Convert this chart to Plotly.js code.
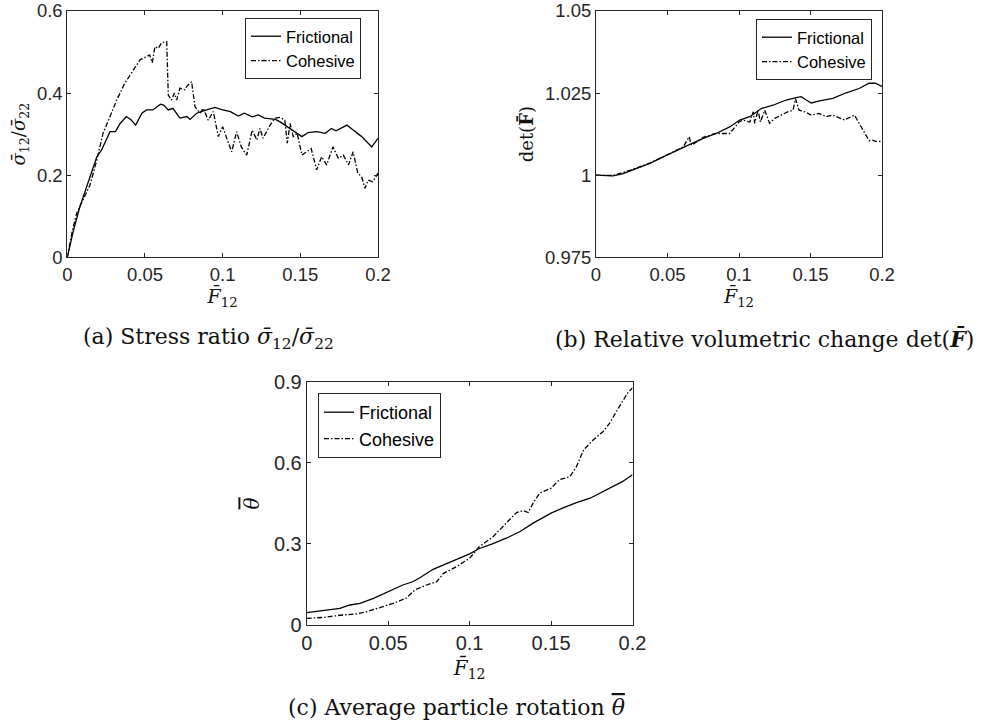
<!DOCTYPE html>
<html><head><meta charset="utf-8">
<script src="https://cdn.plot.ly/plotly-3.0.1.min.js"></script>
<style>html,body{margin:0;padding:0;background:#fff}#chart{width:984px;height:728px}</style>
</head><body><div id="chart"></div>
<script>
// ---------- data ----------
const seriesNames = ['Frictional', 'Cohesive'];
const xTickVals = [0, 0.05, 0.1, 0.15, 0.2];
const xTickText = ['0', '0.05', '0.1', '0.15', '0.2'];
const stressTickVals = [0, 0.2, 0.4, 0.6];
const stressTickText = ['0', '0.2', '0.4', '0.6'];
const detTickVals = [0.975, 1, 1.025, 1.05];
const detTickText = ['0.975', '1', '1.025', '1.05'];
const rotTickVals = [0, 0.3, 0.6, 0.9];
const rotTickText = ['0', '0.3', '0.6', '0.9'];

// (a) stress ratio
const stressFricX = [0, 0.002, 0.004, 0.008, 0.0124, 0.0157, 0.019, 0.022, 0.024, 0.0275, 0.031, 0.034, 0.038, 0.041, 0.044, 0.048, 0.051, 0.055, 0.060, 0.062, 0.065, 0.068, 0.0725, 0.077, 0.079, 0.0833, 0.0897, 0.095, 0.0994, 0.105, 0.110, 0.114, 0.119, 0.123, 0.127, 0.134, 0.137, 0.141, 0.144, 0.148, 0.151, 0.155, 0.1605, 0.166, 0.170, 0.173, 0.180, 0.184, 0.1895, 0.196, 0.199, 0.2];
const stressFricY = [0, 0.035, 0.066, 0.122, 0.172, 0.213, 0.245, 0.261, 0.278, 0.306, 0.306, 0.326, 0.343, 0.335, 0.322, 0.351, 0.359, 0.359, 0.373, 0.371, 0.359, 0.363, 0.339, 0.343, 0.336, 0.351, 0.359, 0.365, 0.360, 0.355, 0.344, 0.351, 0.342, 0.347, 0.339, 0.336, 0.330, 0.320, 0.312, 0.302, 0.294, 0.304, 0.306, 0.302, 0.314, 0.308, 0.322, 0.310, 0.294, 0.269, 0.286, 0.290];
const stressCohX = [0, 0.003, 0.006, 0.0103, 0.0146, 0.019, 0.023, 0.0275, 0.0318, 0.037, 0.0425, 0.0468, 0.051, 0.053, 0.0547, 0.0564, 0.0586, 0.0607, 0.064, 0.065, 0.067, 0.069, 0.0704, 0.0725, 0.0757, 0.0768, 0.080, 0.0822, 0.0854, 0.0876, 0.0907, 0.094, 0.0972, 0.100, 0.1058, 0.109, 0.112, 0.1155, 0.119, 0.122, 0.124, 0.126, 0.1305, 0.1337, 0.137, 0.140, 0.1416, 0.1434, 0.1455, 0.148, 0.151, 0.154, 0.157, 0.1605, 0.1637, 0.167, 0.171, 0.1745, 0.1777, 0.181, 0.184, 0.187, 0.1895, 0.1916, 0.1937, 0.1966, 0.2];
const stressCohY = [0, 0.06, 0.107, 0.140, 0.176, 0.237, 0.302, 0.343, 0.383, 0.424, 0.456, 0.481, 0.489, 0.493, 0.474, 0.513, 0.509, 0.523, 0.525, 0.395, 0.383, 0.400, 0.383, 0.412, 0.408, 0.416, 0.428, 0.367, 0.351, 0.363, 0.334, 0.355, 0.294, 0.318, 0.257, 0.306, 0.269, 0.249, 0.310, 0.286, 0.314, 0.290, 0.322, 0.339, 0.341, 0.334, 0.278, 0.326, 0.294, 0.302, 0.249, 0.257, 0.265, 0.213, 0.245, 0.225, 0.269, 0.241, 0.249, 0.225, 0.257, 0.205, 0.196, 0.168, 0.188, 0.184, 0.205];

// (b) det(F)
const detFricX = [0, 0.012, 0.019, 0.0284, 0.0377, 0.047, 0.0563, 0.0656, 0.075, 0.084, 0.0935, 0.1005, 0.1075, 0.1156, 0.1237, 0.133, 0.140, 0.1435, 0.147, 0.1505, 0.1563, 0.1656, 0.175, 0.184, 0.191, 0.1954, 0.2];
const detFricY = [1.0, 0.9998, 1.0005, 1.0020, 1.0036, 1.0056, 1.0076, 1.0094, 1.0112, 1.0127, 1.0147, 1.0168, 1.0178, 1.0203, 1.0213, 1.0229, 1.0236, 1.0239, 1.0229, 1.0220, 1.0226, 1.0234, 1.0251, 1.0264, 1.0280, 1.0280, 1.0270];
const detCohX = [0, 0.012, 0.0237, 0.0377, 0.0516, 0.061, 0.0651, 0.0668, 0.075, 0.0833, 0.0935, 0.100, 0.1028, 0.1075, 0.110, 0.111, 0.1133, 0.115, 0.118, 0.1214, 0.125, 0.1296, 0.134, 0.1378, 0.1395, 0.142, 0.146, 0.1505, 0.156, 0.161, 0.1656, 0.1737, 0.1807, 0.184, 0.189, 0.191, 0.1933, 0.1956, 0.2];
const detCohY = [1.0, 0.9999, 1.0015, 1.0037, 1.0066, 1.0086, 1.0117, 1.0091, 1.0115, 1.0127, 1.0127, 1.0162, 1.0168, 1.0162, 1.0193, 1.0158, 1.0198, 1.0162, 1.0198, 1.0158, 1.0173, 1.0183, 1.0193, 1.0198, 1.0233, 1.0198, 1.0193, 1.0183, 1.0188, 1.0178, 1.0183, 1.0168, 1.0183, 1.0158, 1.0117, 1.0105, 1.0107, 1.0103, 1.0103];

// (c) rotation
const rotFricX = [0, 0.0102, 0.0204, 0.0265, 0.0327, 0.041, 0.05, 0.059, 0.065, 0.069, 0.0776, 0.0816, 0.092, 0.1, 0.106, 0.114, 0.1225, 0.131, 0.139, 0.15, 0.157, 0.1656, 0.174, 0.18, 0.188, 0.194, 0.2];
const rotFricY = [0.0457, 0.053, 0.0617, 0.074, 0.080, 0.0988, 0.123, 0.148, 0.160, 0.173, 0.206, 0.216, 0.241, 0.263, 0.283, 0.300, 0.321, 0.346, 0.377, 0.414, 0.432, 0.453, 0.469, 0.488, 0.512, 0.531, 0.556];
const rotCohX = [0, 0.0102, 0.0204, 0.0307, 0.0368, 0.045, 0.053, 0.061, 0.0665, 0.0736, 0.0798, 0.084, 0.092, 0.1, 0.106, 0.1145, 0.1227, 0.1288, 0.133, 0.136, 0.139, 0.143, 0.15, 0.155, 0.1616, 0.1656, 0.17, 0.176, 0.182, 0.186, 0.192, 0.197, 0.2];
const rotCohY = [0.0247, 0.028, 0.036, 0.041, 0.049, 0.065, 0.080, 0.099, 0.130, 0.148, 0.160, 0.191, 0.216, 0.247, 0.290, 0.327, 0.377, 0.416, 0.423, 0.416, 0.451, 0.488, 0.506, 0.537, 0.549, 0.586, 0.648, 0.685, 0.716, 0.747, 0.809, 0.858, 0.877];

// ---------- styling ----------
const AX = '#262626';
const solid = {color: '#000', width: 1.3, dash: 'solid'};
const dashdot = {color: '#000', width: 1.3, dash: '5px,2px,1.5px,2px'};

function tr(x, y, name, line, xa, ya, leg) {
  return {x: x, y: y, name: name, type: 'scatter', mode: 'lines', line: line,
          xaxis: xa, yaxis: ya, legend: leg, hoverinfo: 'skip'};
}
const data = [
  tr(stressFricX, stressFricY, seriesNames[0], solid, 'x', 'y', 'legend'),
  tr(stressCohX, stressCohY, seriesNames[1], dashdot, 'x', 'y', 'legend'),
  tr(detFricX, detFricY, seriesNames[0], solid, 'x2', 'y2', 'legend2'),
  tr(detCohX, detCohY, seriesNames[1], dashdot, 'x2', 'y2', 'legend2'),
  tr(rotFricX, rotFricY, seriesNames[0], solid, 'x3', 'y3', 'legend3'),
  tr(rotCohX, rotCohY, seriesNames[1], dashdot, 'x3', 'y3', 'legend3')
];

const SERIF = 'DejaVu Serif, Liberation Serif, serif';
function axis(domain, range, tv, tt, anchor, fs, title, tfs, standoff) {
  return {domain: domain, range: range, tickvals: tv, ticktext: tt, anchor: anchor,
          ticks: 'inside', ticklen: 4, tickwidth: 1, tickcolor: AX,
          showline: true, linecolor: AX, linewidth: 1, mirror: 'ticks',
          showgrid: false, zeroline: false, fixedrange: true,
          tickfont: {family: 'Liberation Sans, Arial, sans-serif', size: fs, color: AX},
          title: {text: title, font: {family: SERIF, size: tfs, color: '#111'}, standoff: standoff}};
}
const W = 984, H = 728;
const px = v => v / W, py = v => 1 - v / H;

const OVER = '<span style="text-decoration:overline">θ</span>';
const xTitle = '<i>F\u0304</i><sub>12</sub>';
const legendBase = {bgcolor: '#fff', bordercolor: AX, borderwidth: 1, tracegroupgap: 0, itemwidth: 30};
const layout = {
  width: W, height: H, margin: {l: 0, r: 0, t: 0, b: 0},
  paper_bgcolor: '#fff', plot_bgcolor: '#fff', showlegend: true,
  xaxis: axis([px(67.3), px(378)], [0, 0.2], xTickVals, xTickText, 'y', 18.5, xTitle, 19, 5),
  yaxis: axis([py(257.3), py(11)], [0, 0.6], stressTickVals, stressTickText, 'x', 18.5,
              '<i>σ\u0304</i><sub>12</sub>/<i>σ\u0304</i><sub>22</sub>', 18, 6),
  xaxis2: axis([px(596), px(882)], [0, 0.2], xTickVals, xTickText, 'y2', 18.5, xTitle, 19, 5),
  yaxis2: axis([py(257.3), py(11)], [0.975, 1.05], detTickVals, detTickText, 'x2', 18.5,
              'det(<b>F\u0304</b>)', 18, 6),
  xaxis3: axis([px(306.7), px(632.5)], [0, 0.2], xTickVals, xTickText, 'y3', 20, xTitle, 20, 7),
  yaxis3: axis([py(625), py(381.7)], [0, 0.9], rotTickVals, rotTickText, 'x3', 20,
              '<i>' + OVER + '</i>', 20, 8),
  legend: Object.assign({x: px(361), y: py(18), xanchor: 'right', yanchor: 'top',
           font: {family: 'Liberation Sans, Arial, sans-serif', size: 16.5, color: '#000'}}, legendBase),
  legend2: Object.assign({x: px(872), y: py(19), xanchor: 'right', yanchor: 'top',
           font: {family: 'Liberation Sans, Arial, sans-serif', size: 16.5, color: '#000'}}, legendBase),
  legend3: Object.assign({x: px(318), y: py(393), xanchor: 'left', yanchor: 'top',
           font: {family: 'Liberation Sans, Arial, sans-serif', size: 18, color: '#000'}}, legendBase),
  annotations: [
    {text: '(a) Stress ratio <i>σ\u0304</i><sub>12</sub>/<i>σ\u0304</i><sub>22</sub>', x: px(208.5), y: py(338),
     xref: 'paper', yref: 'paper', xanchor: 'center', yanchor: 'middle', showarrow: false,
     font: {family: SERIF, size: 22, color: '#111'}},
    {text: '(b) Relative volumetric change det(<b><i>F\u0304</i></b>)', x: px(976), y: py(338),
     xref: 'paper', yref: 'paper', xanchor: 'right', yanchor: 'middle', showarrow: false,
     font: {family: SERIF, size: 22, color: '#111'}},
    {text: '(c) Average particle rotation <i>' + OVER + '</i>', x: px(456), y: py(707),
     xref: 'paper', yref: 'paper', xanchor: 'center', yanchor: 'middle', showarrow: false,
     font: {family: SERIF, size: 22, color: '#111'}}
  ]
};
Plotly.newPlot('chart', data, layout, {staticPlot: true, displayModeBar: false});
</script>
</body></html>
